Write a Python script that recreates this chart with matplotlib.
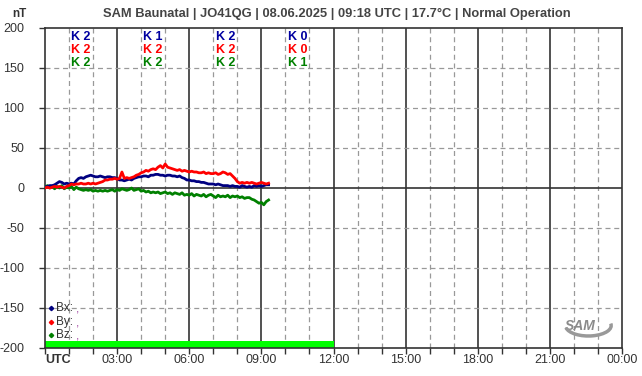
import matplotlib
matplotlib.use("Agg")
import matplotlib.pyplot as plt
import numpy as np
from matplotlib.patches import Arc

plt.rcParams['font.family'] = ['Liberation Sans', 'DejaVu Sans']

# time axis in hours (UTC), one reading every 6 minutes
hours = np.round(np.arange(0, 9.31, 0.1), 2)

bx = [1, 2, 3, 3, 4, 6, 8, 7, 5, 6,
      5, 6, 5, 9, 12, 13, 12, 14, 15, 16,
      15, 14, 14, 15, 14, 13, 14, 14, 13, 13,
      12, 10, 10, 9, 10, 11, 10, 12, 13, 14,
      14, 15, 15, 14, 16, 16, 17, 17, 16, 16,
      15, 16, 16, 15, 15, 14, 15, 13, 12, 10,
      10, 9, 9, 8, 8, 7, 7, 6, 5, 5,
      5, 4, 5, 4, 3, 3, 3, 2, 3, 2,
      2, 1, 3, 2, 1, 2, 1, 3, 2, 3,
      2, 3, 4, 4]
by = [0, 1, 0, 1, 2, 1, 2, 1, 0, 2,
      3, 5, 4, 5, 5, 6, 5, 5, 6, 5,
      6, 5, 6, 7, 8, 10, 10, 11, 11, 12,
      11, 12, 20, 12, 13, 12, 13, 14, 16, 17,
      19, 20, 22, 21, 23, 24, 23, 26, 28, 25,
      30, 26, 25, 24, 23, 22, 23, 21, 22, 21,
      20, 21, 20, 20, 19, 19, 20, 18, 19, 18,
      18, 19, 17, 18, 20, 19, 17, 18, 15, 12,
      8, 6, 7, 6, 7, 6, 7, 6, 5, 6,
      7, 6, 5, 6]
bz = [1, 3, 0, 2, -1, 2, 0, 3, -1, 1,
      0, 2, -2, 1, -1, -2, -3, -2, -3, -2,
      -4, -3, -4, -3, -4, -3, -4, -3, -2, -4,
      -2, -3, -1, -2, -3, -2, 0, -3, -2, -1,
      -4, -3, -5, -4, -6, -5, -6, -5, -7, -6,
      -5, -7, -6, -8, -6, -7, -8, -6, -9, -8,
      -9, -7, -10, -8, -9, -10, -8, -11, -9, -8,
      -10, -12, -9, -11, -10, -11, -9, -12, -10, -11,
      -10, -12, -11, -13, -12, -12, -14, -15, -17, -19,
      -18, -21, -17, -15]

# K indices per 3h block
k_blocks = [1.5, 4.5, 7.5, 10.5]
k_x = [2, 1, 2, 0]
k_y = [2, 2, 2, 0]
k_z = [2, 2, 2, 1]

x_ticks = [0, 3, 6, 9, 12, 15, 18, 21, 24]
x_labels = ['UTC', '03:00', '06:00', '09:00', '12:00', '15:00', '18:00', '21:00', '00:00']
y_ticks = [200, 150, 100, 50, 0, -50, -100, -150, -200]

status_end = 12  # green status bar covers 00:00-12:00

title = 'SAM Baunatal | JO41QG | 08.06.2025 | 09:18 UTC | 17.7°C | Normal Operation'

col_x, col_y, col_z = '#000080', '#ff0000', '#008000'
dark = '#333333'

fig = plt.figure(figsize=(6.42, 3.76), dpi=100)
ax = fig.add_axes([45/642, 28/376, 577/642, 320/376])
ax.set_xlim(0, 24)
ax.set_ylim(-200, 200)

# grid
for h in range(1, 24):
    if h % 3 == 0:
        ax.axvline(h, color=dark, lw=1.2, zorder=1)
    else:
        ax.axvline(h, color='#999999', lw=0.9, ls=(0, (4, 3)), zorder=1)
for v in y_ticks[1:-1]:
    if v == 0:
        ax.axhline(v, color=dark, lw=1.2, zorder=1)
    else:
        ax.axhline(v, color='#999999', lw=0.9, ls=(0, (4, 3)), zorder=1)

# status bar
ax.axhspan(-200, -191, xmin=0, xmax=status_end/24, color='#00ff00', lw=0, zorder=2)

# data
ax.plot(hours, bz, color=col_z, lw=2, zorder=3)
ax.plot(hours, bx, color=col_x, lw=2, zorder=4)
ax.plot(hours, by, color=col_y, lw=2, zorder=5)

# K indices
for xb, kx, ky, kz in zip(k_blocks, k_x, k_y, k_z):
    ax.text(xb, 189, f'K {kx}', color='#0000a0', ha='center', va='center',
            fontsize=9, fontweight='bold', zorder=6)
    ax.text(xb, 172.5, f'K {ky}', color=col_y, ha='center', va='center',
            fontsize=9, fontweight='bold', zorder=6)
    ax.text(xb, 156, f'K {kz}', color=col_z, ha='center', va='center',
            fontsize=9, fontweight='bold', zorder=6)

# legend
for i, (name, c) in enumerate([('Bx:', col_x), ('By:', col_y), ('Bz:', col_z)]):
    yy = -150 - i * 17
    ax.plot([0.25], [yy], marker='D', ms=2.2, color=c, zorder=6)
    ax.text(0.45, yy, name, color='#333333', fontsize=8.5, va='center', zorder=6)
    ax.text(1.3, yy - 2, ',', color='#a040a0', fontsize=8.5, va='center', zorder=6)

# logo
ax.text(22.25, -173, 'SAM', fontsize=10, fontstyle='italic', fontweight='bold',
        color='#8a8a8a', ha='center', va='center', zorder=6)
ax.add_patch(Arc((22.6, -172), 1.9, 26, theta1=-110, theta2=70,
                 color='#999999', lw=2.5, zorder=6))

# axes styling
for s in ax.spines.values():
    s.set_color(dark)
    s.set_linewidth(1.2)
ax.set_xticks(range(25))
ax.set_xticklabels([''] * 25)
ax.set_yticks(y_ticks)
ax.set_yticklabels([str(v) for v in y_ticks], fontsize=9, color='#333333')
ax.tick_params(axis='both', direction='out', length=4, width=1, color=dark, pad=8)
ax.tick_params(axis='y', pad=11)
for t, lab in zip(x_ticks, x_labels):
    ax.text(t, -215, lab, ha='left' if t == 0 else 'center', va='center',
            fontsize=9, color='#333333',
            fontweight='bold' if t == 0 else 'normal', clip_on=False)

fig.text(19/642, 1 - 14/376, 'nT', fontsize=8.5, fontweight='bold', color='#333333',
         ha='center', va='center')
fig.text(337/642, 1 - 14/376, title, fontsize=9.3, fontweight='bold', color='#444444',
         ha='center', va='center')

fig.savefig('out.png', dpi=100)
